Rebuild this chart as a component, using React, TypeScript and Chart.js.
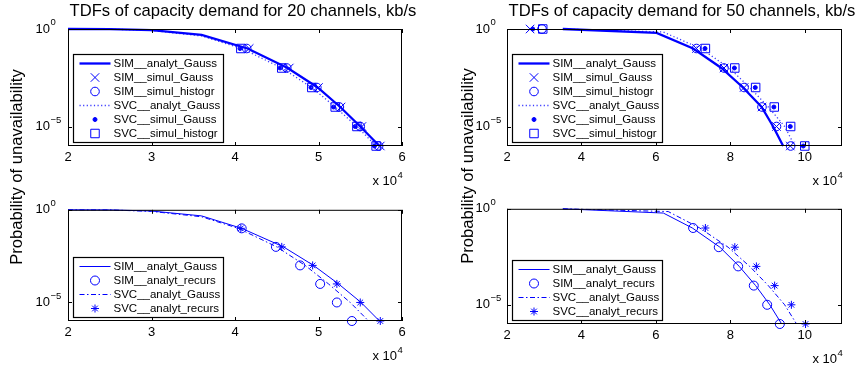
import React, { useEffect, useRef } from 'react';
import { Chart, registerables } from 'chart.js';
import { drawPoint } from 'chart.js/helpers';

Chart.register(...registerables);

const FONT = "'Liberation Sans', Arial, Helvetica, sans-serif";
const BLUE = '#0000ff';
const DOT_BLUE = 'rgb(60,60,255)';

// probability levels of the marker points
const P_DEC = [1e-1, 1e-2, 1e-3, 1e-4, 1e-5, 1e-6];
const P_DEC_ONE = [1, 1e-1, 1e-2, 1e-3, 1e-4, 1e-5, 1e-6];

// ---------- 20 channels, simulation (top-left) ----------
const C20_SIM_AG_X = [2, 2.5, 3, 3.6, 4.15, 4.63, 4.99, 5.26, 5.5, 5.73];
const C20_SIM_AG_P = [1, 0.99, 0.87, 0.5, 1e-1, 1e-2, 1e-3, 1e-4, 1e-5, 1e-6];
const C20_SVC_AG_X = [2, 2.5, 3, 3.6, 4.08, 4.56, 4.92, 5.2, 5.46, 5.69];
const C20_SVC_AG_P = [1, 0.985, 0.84, 0.44, 1e-1, 1e-2, 1e-3, 1e-4, 1e-5, 1e-6];
const C20_SIM_SG_X = [4.17, 4.65, 5.0, 5.27, 5.52, 5.74];
const C20_SIM_SH_X = [4.14, 4.62, 4.98, 5.25, 5.5, 5.72];
const C20_SVC_SG_X = [4.06, 4.54, 4.91, 5.18, 5.44, 5.67];
const C20_SVC_SH_X = [4.07, 4.56, 4.92, 5.2, 5.46, 5.69];

// ---------- 50 channels, simulation (top-right) ----------
const C50_SIM_AG_X = [3.5, 6.02, 7.0, 7.76, 8.34, 8.84, 9.15, 9.42];
const C50_SIM_AG_P = [1, 0.63, 1e-1, 1e-2, 1e-3, 1e-4, 1e-5, 1e-6];
const C50_SVC_AG_X = [3.5, 6.2, 7.2, 7.97, 8.52, 9.02, 9.46, 9.73];
const C50_SVC_AG_P = [1, 0.7, 1e-1, 1e-2, 1e-3, 1e-4, 1e-5, 1e-6];
const C50_SIM_SG_X = [2.62, 7.09, 7.83, 8.37, 8.85, 9.24, 9.61];
const C50_SIM_SH_X = [2.94, 7.09, 7.83, 8.37, 8.85, 9.24, 9.62];
const C50_SVC_SG_X = [2.69, 7.32, 8.11, 8.67, 9.17, 9.61, 9.96];
const C50_SVC_SH_X = [2.96, 7.33, 8.12, 8.68, 9.18, 9.62, 10.0];

// ---------- 20 channels, analytic (bottom-left) ----------
const A20_SIM_AG_X = [2, 2.5, 3, 3.6, 4.08, 4.58, 4.94, 5.24, 5.51, 5.73];
const A20_SIM_AG_P = [1, 0.99, 0.86, 0.47, 1e-1, 1e-2, 1e-3, 1e-4, 1e-5, 1e-6];
const A20_SVC_AG_X = [2, 2.5, 3, 3.6, 4.04, 4.5, 4.84, 5.12, 5.38, 5.6];
const A20_SVC_AG_P = [1, 0.985, 0.82, 0.42, 1e-1, 1e-2, 1e-3, 1e-4, 1e-5, 1e-6];
const A20_SIM_AR_X = [4.08, 4.49, 4.78, 5.02, 5.22, 5.4];
const A20_SVC_AR_X = [4.07, 4.56, 4.93, 5.22, 5.5, 5.74];

// ---------- 50 channels, analytic (bottom-right) ----------
const A50_SIM_AG_X = [3.5, 6.2, 6.98, 7.72, 8.24, 8.68, 9.06, 9.38];
const A50_SIM_AG_P = [1, 0.6, 1e-1, 1e-2, 1e-3, 1e-4, 1e-5, 1e-6];
const A50_SVC_AG_X = [3.5, 6.33, 7.18, 7.94, 8.52, 9.02, 9.46, 9.78];
const A50_SVC_AG_P = [1, 0.72, 1e-1, 1e-2, 1e-3, 1e-4, 1e-5, 1e-6];
const A50_SIM_AR_X = [7.0, 7.69, 8.21, 8.63, 8.99, 9.33];
const A50_SVC_AR_X = [7.33, 8.12, 8.7, 9.19, 9.64, 10.02];

// ticks
const X_TICKS_20 = [2, 3, 4, 5, 6];
const X_TICKS_50 = [2, 4, 6, 8, 10];
const Y_TICKS = [1, 1e-5];
const Y_TICK_EXP = ['0', '\u22125'];

const TITLE_20 = 'TDFs of capacity demand for 20 channels, kb/s';
const TITLE_50 = 'TDFs of capacity demand for 50 channels, kb/s';
const Y_LABEL = 'Probability of unavailability';

const pts = (xs: number[], ps: number[]) => xs.map((x, i) => ({ x, y: ps[i] }));

function lineDs(label: string, xs: number[], ps: number[], width: number, dash: number[], color = BLUE) {
  return {
    label,
    data: pts(xs, ps),
    showLine: true,
    pointRadius: 0,
    borderColor: color,
    backgroundColor: color,
    borderWidth: width,
    borderDash: dash,
    tension: 0,
    fill: false,
    clip: false,
  };
}

function markDs(label: string, xs: number[], ps: number[], style: string, radius: number, filled: boolean) {
  return {
    label,
    data: pts(xs, ps),
    showLine: false,
    pointStyle: style,
    pointRadius: radius,
    pointBorderWidth: 1,
    pointBorderColor: BLUE,
    pointBackgroundColor: filled ? BLUE : 'rgba(0,0,0,0)',
    borderColor: BLUE,
    backgroundColor: filled ? BLUE : 'rgba(0,0,0,0)',
    clip: false,
  };
}

const DOTTED = [1.2, 2.4];
const DASHDOT = [5, 2.5, 1.5, 2.5];

const PANELS = [
  {
    id: 'tl', left: 0, top: 0, w: 430, h: 196,
    padding: { left: 8, right: 28, top: 29, bottom: 30 },
    xMax: 6, xTicks: X_TICKS_20, title: TITLE_20, titleX: 243, yPad: 18,
    datasets: [
      lineDs('SIM__analyt_Gauss', C20_SIM_AG_X, C20_SIM_AG_P, 2.3, []),
      markDs('SIM__simul_Gauss', C20_SIM_SG_X, P_DEC, 'crossRot', 6, false),
      markDs('SIM__simul_histogr', C20_SIM_SH_X, P_DEC, 'circle', 4.3, false),
      lineDs('SVC__analyt_Gauss', C20_SVC_AG_X, C20_SVC_AG_P, 1.3, DOTTED, DOT_BLUE),
      markDs('SVC__simul_Gauss', C20_SVC_SG_X, P_DEC, 'circle', 2, true),
      markDs('SVC__simul_histogr', C20_SVC_SH_X, P_DEC, 'rect', 6, false),
    ],
  },
  {
    id: 'tr', left: 430, top: 0, w: 431, h: 196,
    padding: { left: 17, right: 19, top: 29, bottom: 30 },
    xMax: 11, xTicks: X_TICKS_50, title: TITLE_50, titleX: 252, yPad: 17,
    datasets: [
      lineDs('SIM__analyt_Gauss', C50_SIM_AG_X, C50_SIM_AG_P, 2.3, []),
      markDs('SIM__simul_Gauss', C50_SIM_SG_X, P_DEC_ONE, 'crossRot', 6, false),
      markDs('SIM__simul_histogr', C50_SIM_SH_X, P_DEC_ONE, 'circle', 4.3, false),
      lineDs('SVC__analyt_Gauss', C50_SVC_AG_X, C50_SVC_AG_P, 1.3, DOTTED, DOT_BLUE),
      markDs('SVC__simul_Gauss', C50_SVC_SG_X, P_DEC_ONE, 'circle', 2, true),
      markDs('SVC__simul_histogr', C50_SVC_SH_X, P_DEC_ONE, 'rect', 6, false),
    ],
  },
  {
    id: 'bl', left: 0, top: 184, w: 430, h: 184,
    padding: { left: 8, right: 28, top: 8, bottom: 27 },
    xMax: 6, xTicks: X_TICKS_20, title: '', titleX: 0, yPad: 18,
    datasets: [
      lineDs('SIM__analyt_Gauss', A20_SIM_AG_X, A20_SIM_AG_P, 1, []),
      markDs('SIM__analyt_recurs', A20_SIM_AR_X, P_DEC, 'circle', 4.5, false),
      lineDs('SVC__analyt_Gauss', A20_SVC_AG_X, A20_SVC_AG_P, 1, DASHDOT),
      markDs('SVC__analyt_recurs', A20_SVC_AR_X, P_DEC, 'star', 4, false),
    ],
  },
  {
    id: 'br', left: 430, top: 184, w: 431, h: 184,
    padding: { left: 17, right: 19, top: 12, bottom: 24 },
    xMax: 11, xTicks: X_TICKS_50, title: '', titleX: 0, yPad: 17,
    datasets: [
      lineDs('SIM__analyt_Gauss', A50_SIM_AG_X, A50_SIM_AG_P, 1, []),
      markDs('SIM__analyt_recurs', A50_SIM_AR_X, P_DEC, 'circle', 4.5, false),
      lineDs('SVC__analyt_Gauss', A50_SVC_AG_X, A50_SVC_AG_P, 1, DASHDOT),
      markDs('SVC__analyt_recurs', A50_SVC_AR_X, P_DEC, 'star', 4, false),
    ],
  },
];

function decorPlugin(spec: any) {
  return {
    id: 'decor_' + spec.id,
    afterDraw(chart: any) {
      const ctx = chart.ctx;
      const a = chart.chartArea;
      const xs = chart.scales.x;
      const ys = chart.scales.y;
      ctx.save();
      // axes box
      ctx.setLineDash([]);
      ctx.strokeStyle = '#000';
      ctx.lineWidth = 1;
      ctx.strokeRect(a.left + 0.5, a.top + 0.5, a.right - a.left - 1, a.bottom - a.top - 1);
      // inward ticks
      const TL = 4;
      ctx.beginPath();
      spec.xTicks.forEach((v: number) => {
        const px = Math.round(xs.getPixelForValue(v)) + 0.5;
        ctx.moveTo(px, a.bottom);
        ctx.lineTo(px, a.bottom - TL);
        ctx.moveTo(px, a.top);
        ctx.lineTo(px, a.top + TL);
      });
      Y_TICKS.forEach((v) => {
        const py = Math.round(ys.getPixelForValue(v)) + 0.5;
        ctx.moveTo(a.left, py);
        ctx.lineTo(a.left + TL, py);
        ctx.moveTo(a.right, py);
        ctx.lineTo(a.right - TL, py);
      });
      ctx.stroke();

      // exponents of the y tick labels ("10" is drawn by the axis)
      ctx.fillStyle = '#000';
      ctx.font = `9.5px ${FONT}`;
      ctx.textAlign = 'left';
      ctx.textBaseline = 'middle';
      Y_TICKS.forEach((v, i) => {
        const py = ys.getPixelForValue(v);
        ctx.fillText(Y_TICK_EXP[i], a.left - spec.yPad + 0.5, py - 6.5);
      });

      // legend
      const ds = chart.data.datasets;
      const rows = ds.length;
      const boxH = rows * 14 + 4;
      const bx = a.left + 5;
      const by = a.bottom - 4 - boxH;
      const bw = 150;
      ctx.fillStyle = '#fff';
      ctx.fillRect(bx, by, bw, boxH);
      ctx.lineWidth = 1.2;
      ctx.strokeStyle = '#000';
      ctx.strokeRect(Math.round(bx) + 0.5, Math.round(by) + 0.5, bw, Math.round(boxH));
      ctx.font = `11.5px ${FONT}`;
      ctx.textBaseline = 'middle';
      ctx.textAlign = 'left';
      ds.forEach((d: any, i: number) => {
        const ry = by + 9.5 + i * 14;
        if (d.showLine) {
          ctx.setLineDash(d.borderDash || []);
          ctx.lineWidth = d.borderWidth;
          ctx.strokeStyle = d.borderColor;
          ctx.beginPath();
          ctx.moveTo(bx + 6.5, ry);
          ctx.lineTo(bx + 37.5, ry);
          ctx.stroke();
        } else {
          ctx.setLineDash([]);
          ctx.lineWidth = 1;
          ctx.strokeStyle = d.pointBorderColor;
          ctx.fillStyle = d.pointBackgroundColor;
          drawPoint(ctx, { pointStyle: d.pointStyle, radius: d.pointRadius, borderWidth: 1, rotation: 0 }, bx + 22, ry);
        }
        ctx.setLineDash([]);
        ctx.fillStyle = '#000';
        ctx.fillText(d.label, bx + 40.5, ry);
      });

      // exponent label of the x axis
      ctx.fillStyle = '#000';
      ctx.textBaseline = 'middle';
      ctx.font = `13px ${FONT}`;
      ctx.textAlign = 'right';
      ctx.fillText('x 10', a.right - 5, a.bottom + 35.5);
      ctx.font = `9.5px ${FONT}`;
      ctx.textAlign = 'left';
      ctx.fillText('4', a.right - 4.5, a.bottom + 29);

      // title
      if (spec.title) {
        ctx.font = `16.6px ${FONT}`;
        ctx.textAlign = 'center';
        ctx.fillText(spec.title, spec.titleX, 11);
      }
      ctx.restore();
    },
  };
}

function buildConfig(spec: any) {
  return {
    type: 'line',
    data: { datasets: spec.datasets },
    options: {
      animation: false,
      responsive: false,
      maintainAspectRatio: false,
      events: [],
      layout: { padding: spec.padding },
      plugins: {
        legend: { display: false },
        title: { display: false },
        tooltip: { enabled: false },
      },
      scales: {
        x: {
          type: 'linear',
          min: 2,
          max: spec.xMax,
          afterBuildTicks: (s: any) => {
            s.ticks = spec.xTicks.map((v: number) => ({ value: v }));
          },
          afterFit: (s: any) => {
            s.height = 20;
          },
          grid: { display: false, drawTicks: false },
          border: { display: false },
          ticks: {
            font: { family: FONT, size: 13 },
            color: '#000',
            padding: 4,
            maxRotation: 0,
            autoSkip: false,
            callback: (v: any) => String(v),
          },
        },
        y: {
          type: 'logarithmic',
          min: 1e-6,
          max: 1,
          afterBuildTicks: (s: any) => {
            s.ticks = Y_TICKS.map((v) => ({ value: v }));
          },
          afterFit: (s: any) => {
            s.width = 60;
          },
          grid: { display: false, drawTicks: false },
          border: { display: false },
          ticks: {
            font: { family: FONT, size: 13 },
            color: '#000',
            padding: spec.yPad,
            autoSkip: false,
            callback: () => '10',
          },
        },
      },
    },
    plugins: [decorPlugin(spec)],
  };
}

function Panel({ spec }: { spec: any }) {
  const ref = useRef<HTMLCanvasElement | null>(null);
  useEffect(() => {
    if (!ref.current) return;
    const chart = new Chart(ref.current, buildConfig(spec) as any);
    return () => chart.destroy();
  }, [spec]);
  return (
    <canvas
      ref={ref}
      width={spec.w}
      height={spec.h}
      style={{ position: 'absolute', left: spec.left, top: spec.top, width: spec.w, height: spec.h }}
    />
  );
}

function yLabelStyle(cx: number, cy: number): React.CSSProperties {
  return {
    position: 'absolute',
    left: cx - 110,
    top: cy - 11,
    width: 220,
    height: 22,
    lineHeight: '22px',
    textAlign: 'center',
    fontFamily: FONT,
    fontSize: '16.6px',
    color: '#000',
    transform: 'rotate(-90deg)',
    whiteSpace: 'nowrap',
  };
}

export default function App() {
  return (
    <div style={{ position: 'absolute', left: 0, top: 0, width: 861, height: 368, background: '#fff', overflow: 'hidden' }}>
      {PANELS.map((p) => (
        <Panel key={p.id} spec={p} />
      ))}
      <div style={yLabelStyle(17, 167)}>{Y_LABEL}</div>
      <div style={yLabelStyle(468, 166)}>{Y_LABEL}</div>
    </div>
  );
}
